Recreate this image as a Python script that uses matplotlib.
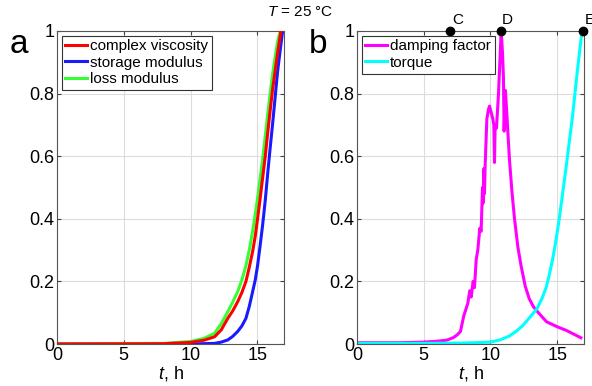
import numpy as np
import matplotlib
matplotlib.use("Agg")
import matplotlib.pyplot as plt

plt.rcParams['font.family'] = ['Liberation Sans', 'DejaVu Sans']
plt.rcParams['mathtext.fontset'] = 'custom'
plt.rcParams['mathtext.it'] = 'Liberation Sans:italic'
plt.rcParams['mathtext.rm'] = 'Liberation Sans'

# panel a: normalised rheology curves
t_visc = [0, 8, 10, 11, 11.8, 12.3, 12.79, 13.15, 13.53, 13.85, 14.15, 14.4, 14.65, 14.85, 15.02,
          15.2, 15.4, 15.6, 15.77, 15.95, 16.14, 16.33, 16.52, 16.77]
visc = [0, 0.001, 0.005, 0.012, 0.023, 0.045, 0.082, 0.105, 0.135, 0.165, 0.2, 0.245, 0.295, 0.345, 0.40,
        0.46, 0.53, 0.60, 0.67, 0.74, 0.81, 0.87, 0.93, 1.0]

t_stor = [0, 10, 11.8, 12.3, 12.79, 13.15, 13.53, 13.85, 14.15, 14.4, 14.65, 14.85, 15.02, 15.2,
          15.4, 15.6, 15.77, 15.95, 16.14, 16.33, 16.52, 16.72, 16.9]
stor = [0, 0, 0.002, 0.006, 0.013, 0.024, 0.04, 0.058, 0.082, 0.12, 0.167, 0.205, 0.25, 0.31,
        0.38, 0.46, 0.54, 0.62, 0.70, 0.785, 0.87, 0.94, 1.0]

t_loss = [0, 8, 10, 11, 11.8, 12.3, 12.79, 13.15, 13.53, 13.85, 14.15, 14.4, 14.65, 14.85, 15.02,
          15.2, 15.4, 15.6, 15.77, 15.95, 16.14, 16.33, 16.52, 16.72]
loss = [0, 0.002, 0.008, 0.018, 0.034, 0.065, 0.103, 0.133, 0.167, 0.205, 0.25, 0.30, 0.36, 0.415, 0.465,
        0.525, 0.59, 0.665, 0.73, 0.795, 0.86, 0.915, 0.966, 1.0]

# panel b
t_damp = [0, 3, 5, 6, 6.7, 7.2, 7.5, 7.75, 8.0, 8.15, 8.3, 8.45, 8.55, 8.7, 8.8, 8.93, 9.05, 9.2, 9.3, 9.4,
          9.45, 9.5, 9.55, 9.6, 9.65, 9.73, 9.85, 9.93, 10.05, 10.17, 10.25, 10.3, 10.35, 10.45, 10.6,
          10.75, 10.8, 10.9, 10.97, 11.02, 11.12, 11.27, 11.42, 11.6, 11.8, 12.05, 12.29, 12.6, 12.9,
          13.2, 13.53, 13.9, 14.2, 15.0, 15.65, 16.77]
damp = [0.004, 0.004, 0.006, 0.009, 0.012, 0.02, 0.029, 0.04, 0.09, 0.11, 0.13, 0.17, 0.15, 0.2, 0.18, 0.27, 0.3,
        0.37, 0.36, 0.5, 0.45, 0.56, 0.48, 0.57, 0.63, 0.72, 0.75, 0.76, 0.74, 0.72, 0.7, 0.58, 0.7, 0.69, 0.8,
        0.95, 1.0, 0.93, 0.85, 0.68, 0.81, 0.70, 0.59, 0.49, 0.40, 0.31, 0.25, 0.185, 0.145,
        0.12, 0.103, 0.085, 0.071, 0.055, 0.044, 0.02]

t_torque = [0, 5, 8, 10, 10.7, 11.4, 11.9, 12.4, 12.9, 13.2, 13.5, 13.85, 14.15, 14.4, 14.65, 14.9,
            15.15, 15.4, 15.65, 15.9, 16.15, 16.5, 16.85]
torque = [0.002, 0.002, 0.003, 0.006, 0.013, 0.025, 0.04, 0.058, 0.083, 0.098, 0.114, 0.145, 0.178, 0.22,
          0.27, 0.33, 0.40, 0.48, 0.56, 0.645, 0.73, 0.87, 1.0]

pt_labels = ['C', 'D', 'E']
pt_t = [7.0, 10.75, 16.95]
pt_v = [1, 1, 1]

xticks = [0, 5, 10, 15]
yticks = [0, 0.2, 0.4, 0.6, 0.8, 1]
yticklabels = ['0', '0.2', '0.4', '0.6', '0.8', '1']

fig = plt.figure(figsize=(5.92, 3.86), dpi=100)
ax1 = fig.add_axes([0.0963, 0.1088, 0.3834, 0.8109])
ax2 = fig.add_axes([0.603, 0.1088, 0.3834, 0.8109])

ax1.plot(t_visc, visc, color='#ff0000', lw=2.2, label='complex viscosity', zorder=3)
ax1.plot(t_stor, stor, color='#1a1aff', lw=2.2, label='storage modulus', zorder=2)
ax1.plot(t_loss, loss, color='#33ff33', lw=2.2, label='loss modulus', zorder=2)

ax2.plot(t_damp, damp, color='#ff00ff', lw=2.2, label='damping factor')
ax2.plot(t_torque, torque, color='#00ffff', lw=2.2, label='torque')
ax2.plot(pt_t, pt_v, 'o', color='black', ms=6, clip_on=False, zorder=5)
for lab, x, y in zip(pt_labels, pt_t, pt_v):
    ax2.annotate(lab, (x, y), xytext=(1, 3), textcoords='offset points',
                 fontsize=11, ha='left', va='bottom', annotation_clip=False)

for ax in (ax1, ax2):
    ax.set_xlim(0, 17)
    ax.set_ylim(0, 1)
    ax.set_xticks(xticks)
    ax.set_yticks(yticks)
    ax.set_yticklabels(yticklabels)
    ax.tick_params(direction='in', length=3, labelsize=13, top=True, right=True,
                   color='#404040', pad=2)
    ax.grid(True, color='#dcdcdc', lw=0.8)
    ax.set_axisbelow(True)
    for s in ax.spines.values():
        s.set_color('#555555')
    ax.set_xlabel(r'$\it{t}$, h', fontsize=13, labelpad=0)
    leg = ax.legend(loc='upper left', fontsize=11, fancybox=False, framealpha=1,
                    edgecolor='#333333', handlelength=1.4, handletextpad=0.2,
                    borderpad=0.25, labelspacing=0.15, borderaxespad=0.3)
    leg.get_frame().set_linewidth(0.8)

fig.text(0.032, 0.885, 'a', fontsize=24, ha='center', va='center')
fig.text(0.538, 0.885, 'b', fontsize=24, ha='center', va='center')
fig.text(0.507, 0.968, r'$\it{T}$ = 25 °C', fontsize=11, ha='center', va='center')

fig.savefig('out.png', dpi=100)
